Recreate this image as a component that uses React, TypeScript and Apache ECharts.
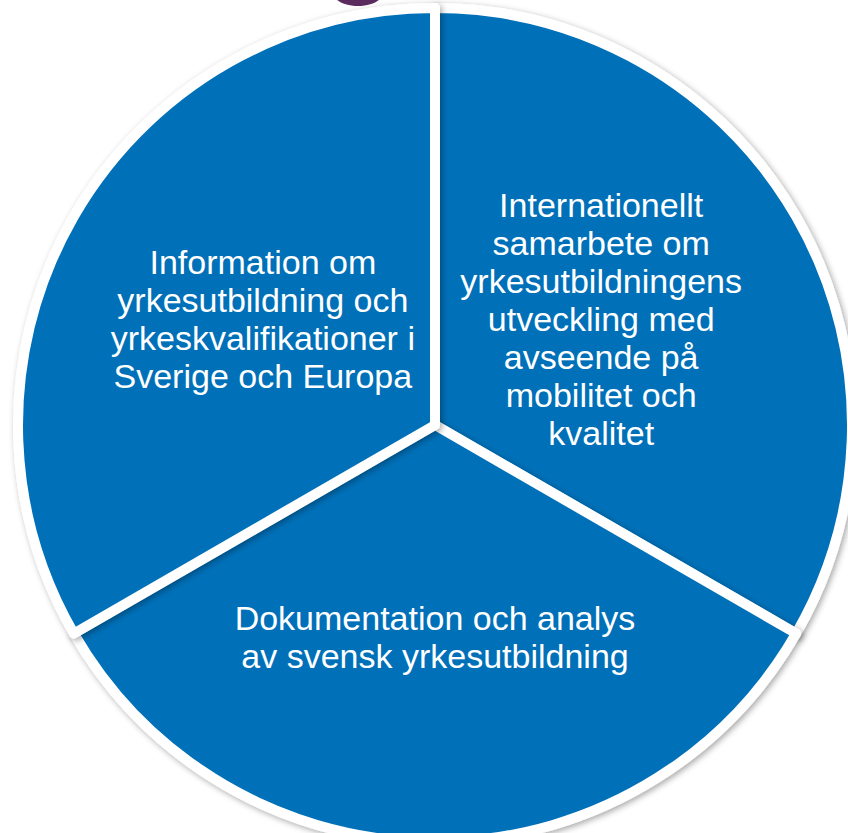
import React, { useEffect, useRef } from "react";
import * as echarts from "echarts";

const categories = [
  "Internationellt samarbete om yrkesutbildningens utveckling med avseende på mobilitet och kvalitet",
  "Dokumentation och analys av svensk yrkesutbildning",
  "Information om yrkesutbildning och yrkeskvalifikationer i Sverige och Europa",
];
const values = [1, 1, 1];
const labelLines = [
  "Internationellt\nsamarbete om\nyrkesutbildningens\nutveckling med\navseende på\nmobilitet och\nkvalitet",
  "Dokumentation och analys\nav svensk yrkesutbildning",
  "Information om\nyrkesutbildning och\nyrkeskvalifikationer i\nSverige och Europa",
];
const labelShiftX = [-17, 0, 11];

export default function App() {
  const ref = useRef<HTMLDivElement>(null);
  useEffect(() => {
    if (!ref.current) return;
    const chart = echarts.init(ref.current, null, { renderer: "svg" });
    chart.setOption({
      animation: false,
      backgroundColor: "#ffffff",
      graphic: [
        {
          type: "ellipse",
          shape: { cx: 358, cy: -6, rx: 24, ry: 12 },
          style: { fill: "#5B2A5E" },
          silent: true,
        },
      ],
      series: [
        {
          type: "pie",
          center: [435, 425],
          radius: 417,
          startAngle: 90,
          clockwise: true,
          silent: true,
          itemStyle: {
            color: "#0070B8",
            borderColor: "#ffffff",
            borderWidth: 10,
            shadowBlur: 6,
            shadowColor: "rgba(0,0,0,0.35)",
            shadowOffsetX: 2,
            shadowOffsetY: 2,
          },
          label: {
            show: true,
            position: "inside",
            color: "#ffffff",
            fontFamily: "Liberation Sans, Arial, sans-serif",
            fontSize: 34,
            lineHeight: 38,
            align: "center",
            formatter: (p: any) => labelLines[p.dataIndex],
          },
          labelLayout: (p: any) => ({ dx: labelShiftX[p.dataIndex] }),
          labelLine: { show: false },
          emphasis: { disabled: true },
          data: categories.map((name, i) => ({ name, value: values[i] })),
        },
      ],
    });
    return () => chart.dispose();
  }, []);
  return (
    <div
      ref={ref}
      style={{ position: "fixed", left: 0, top: 0, width: 848, height: 833 }}
    />
  );
}
